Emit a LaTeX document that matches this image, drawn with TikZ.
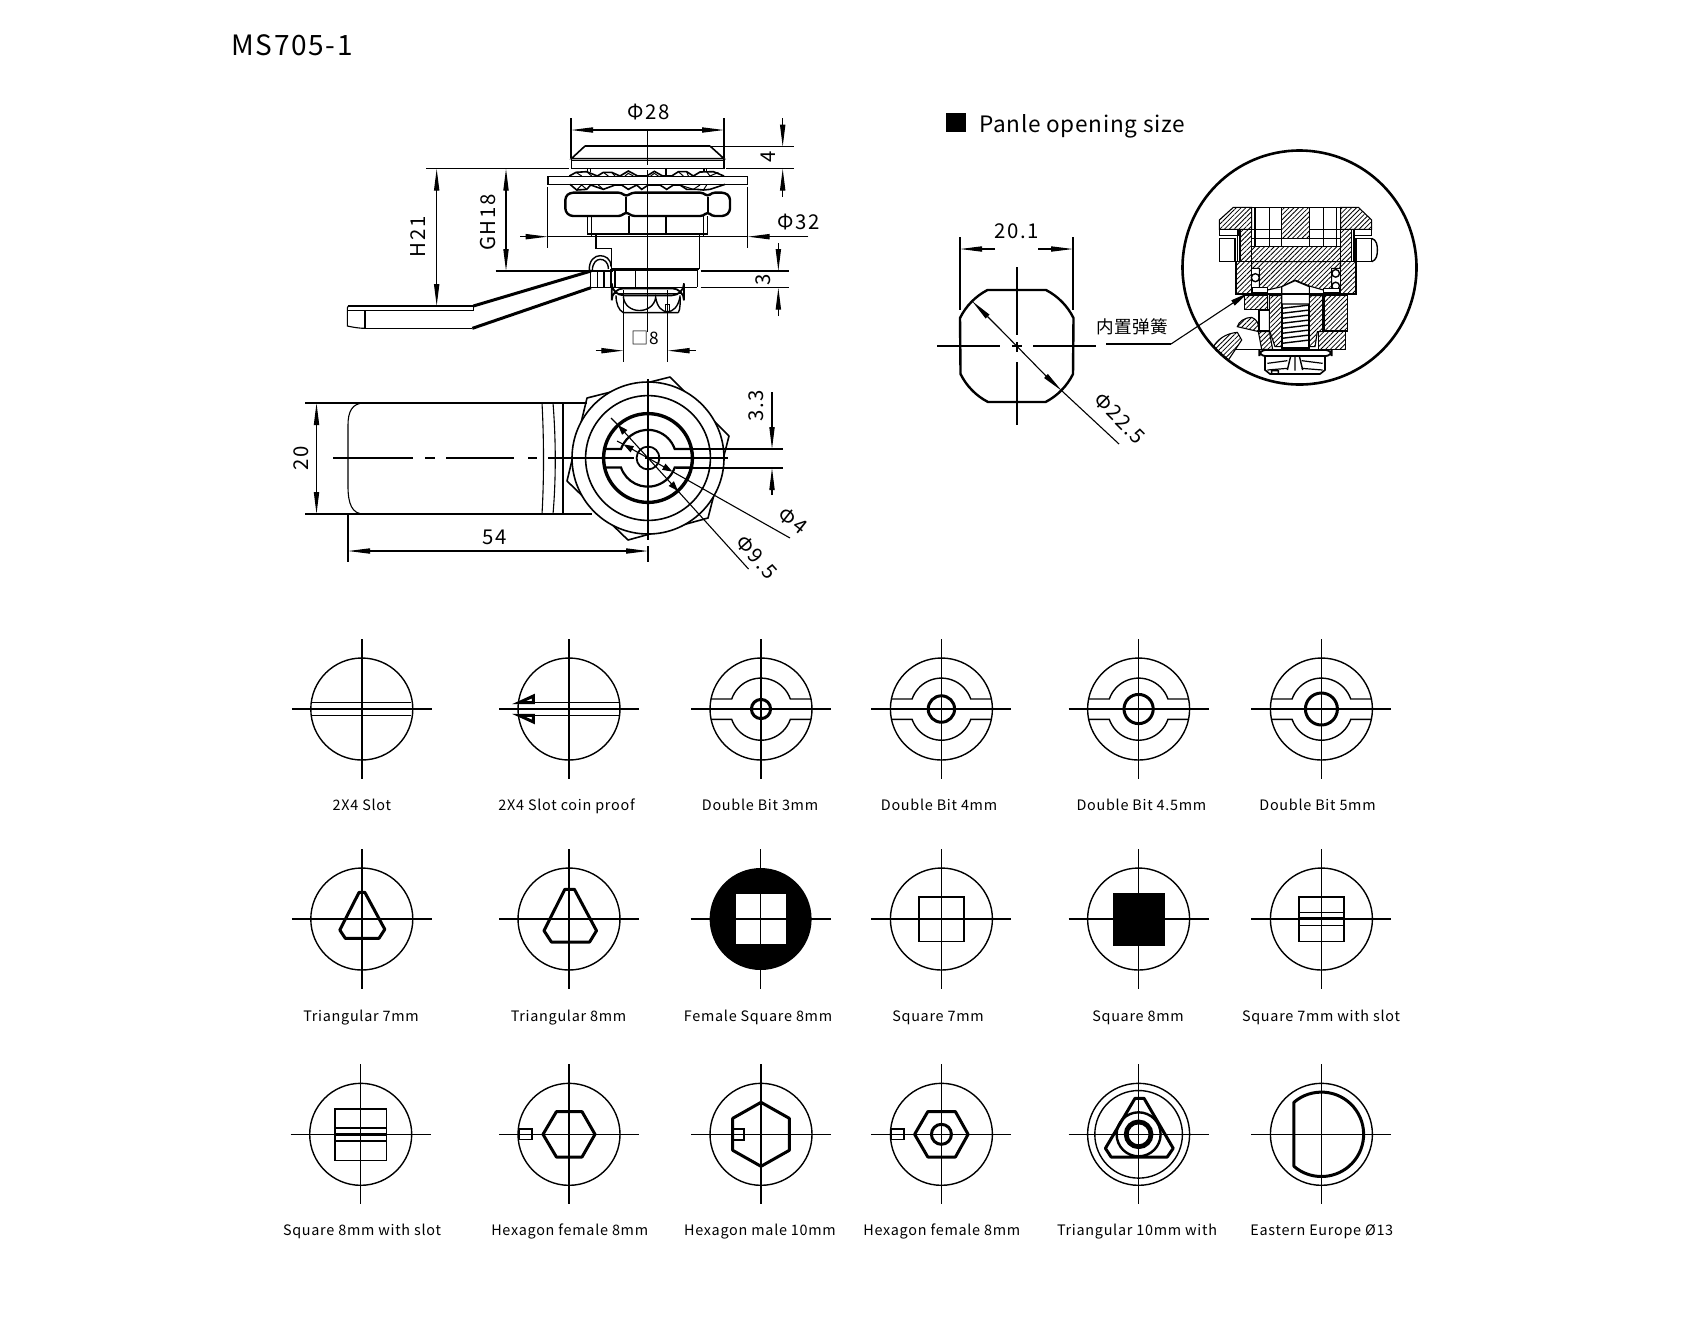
\documentclass[tikz,border=0pt]{standalone}
\usepackage{fontspec}
\setmainfont[LetterSpace=3]{Noto Sans CJK SC}
\newfontfamily\dmf[LetterSpace=8]{Noto Sans CJK SC}
\newfontfamily\lbf[LetterSpace=5]{Noto Sans CJK SC}
\newfontfamily\ttf[LetterSpace=6]{Noto Sans CJK SC}
\usetikzlibrary{arrows.meta,patterns.meta}
\newcommand{\fsz}[1]{\fontsize{#1}{#1}\selectfont}
\tikzset{
 thn/.style={line width=0.55pt,black},
 med/.style={line width=0.9pt,black},
 thk/.style={line width=1.5pt,black,line join=round},
 crs/.style={line width=0.7pt,black},
 tipa/.tip={Triangle[length=11pt,width=2.6pt]},
 tipb/.tip={Triangle[length=5pt,width=3.4pt]},
 dim/.style={thn,{tipa}-{tipa}},
 dimr/.style={thn,-{tipa}},
 dimt/.style={inner sep=0pt,font=\dmf\fsz{10.2}},
 lab/.style={inner sep=0pt,anchor=base,font=\lbf\fsz{7.2}},
 hat/.style={line width=0.55pt,draw=black,pattern={Lines[angle=45,distance=1.7pt,line width=0.4pt]}},
 z1/.style={shift={(330,90)},x=0.16667pt,y=-0.16667pt},
 z11/.style={shift={(540,120)},x=0.16667pt,y=-0.16667pt},
 z10/.style={shift={(1180,150)},x=0.16667pt,y=-0.16667pt},
}
\newcommand{\icn}{%
 \draw[crs] (-70,0) -- (70,0) (0,-70) -- (0,70);
 \draw[line width=0.7pt] (0,0) circle[radius=25.5pt];}
\newcommand{\dblbit}[1]{%
 \icn
 \draw[line width=0.7pt] (-50,-10) -- (-29.3,-10) arc[start angle=161,end angle=19,radius=15.5pt] -- (50,-10);
 \draw[line width=0.7pt] (-50,10.3) -- (-29.3,10.3) arc[start angle=199,end angle=341,radius=15.5pt] -- (50,10.3);
 \draw[line width=1.5pt] (0,0) circle[radius=#1];}
\begin{document}
\begin{tikzpicture}[x=0.5pt,y=-0.5pt]
\useasboundingbox (0,0) rectangle (1684,1319);
\fill[white] (0,0) rectangle (1684,1319);
% title
\node[inner sep=0pt,anchor=base west,font=\ttf\fsz{14}] (title) at (231,55) {MS705-1};
\fill (946,113) rectangle (966,132);
\node[inner sep=0pt,anchor=base west,font=\fsz{11.3}] (panle) at (979,132) {Panle opening size};

% ===== side view: dimensions
\begin{scope}[z1]
\draw[thn] (723,85) -- (723,205) (1182,85) -- (1182,205);
\draw[dim] (723,120) -- (1182,120);
\draw[thn] (953,120) -- (953,225) (953,240) -- (953,725);
\node[dimt] (d28) at (955,65) {Φ28};
\draw[thn] (1140,170) -- (1392,170);
\draw[thn] (288,236) -- (718,236) (1188,236) -- (1392,236);
\draw[dimr] (1358,85) -- (1358,170);
\draw[dimr] (1358,320) -- (1358,236);
\node[dimt,rotate=90] (d4) at (1315,200) {4};
\draw[dim] (320,236) -- (320,648);
\node[dimt,rotate=90] (dh) at (265,440) {H21};
\draw[dim] (528,236) -- (528,543);
\draw[thn] (497,543) -- (850,543);
\node[dimt,rotate=90] (dg) at (475,398) {GH18};
\draw[thn] (653,290) -- (653,475) (1253,290) -- (1253,475);
\draw[dimr] (570,440) -- (653,440);
\draw[dimr] (1435,440) -- (1253,440);
\draw[thn] (653,440) -- (1253,440);
\node[dimt] (d32) at (1405,395) {Φ32};
\draw[thn] (1112,543) -- (1378,543) (1112,593) -- (1378,593);
\draw[dimr] (1345,460) -- (1345,543);
\draw[dimr] (1345,678) -- (1345,593);
\node[dimt,rotate=90] (d3) at (1300,570) {3};
\draw[thn] (880,600) -- (880,815) (1013,600) -- (1013,815);
\draw[dimr] (797,782) -- (880,782);
\draw[dimr] (1097,782) -- (1013,782);
\node[inner sep=0pt,font=\fsz{8.6}] (d8) at (946,745) {□8};
% handle
\draw[thk] (430,648) -- (783,543);
\draw[thk] (427,715) -- (783,593);
\draw[thn] (55,648) -- (430,648) -- (430,662) (52,662) -- (430,662) (105,715) -- (427,715);
\draw[thn] (55,648) .. controls (52,650) and (52,655) .. (52,662) -- (52,708) .. controls (70,712) and (90,715) .. (105,715);
\draw[thn] (105,662) -- (105,715);
\end{scope}

% ===== side view: lock body
\begin{scope}[z11]
\draw[line width=0.8pt] (135,78) -- (510,78);
\draw[line width=0.8pt] (135,78) -- (94,116) -- (552,116) -- (510,78);
\draw[line width=0.8pt] (94,116) -- (94,145) -- (552,145) -- (552,116);
\draw[line width=0.5pt] (94,120) -- (552,120);
% upper teeth
\draw[line width=0.8pt] (88,168) -- (108,157) -- (140,155) -- (172,168) -- (190,157) -- (215,157) -- (240,168) -- (265,153) -- (293,168) -- (320,168) -- (343,154) -- (368,168) -- (395,168) -- (415,155) -- (440,155) -- (460,168) -- (480,156) -- (520,155) -- (552,168);
\draw[line width=0.5pt] (108,157) -- (125,168) (140,155) -- (155,168) (190,157) -- (205,168) (215,157) -- (225,168) (415,155) -- (430,168) (440,155) -- (445,168) (500,155) -- (510,168) -- (535,157) (255,168) -- (265,160) -- (280,168) (332,168) -- (343,160) -- (355,168);
\draw[line width=0.6pt] (143,145) -- (143,155) (152,145) -- (152,155) (378,145) -- (378,168) (492,145) -- (492,155) (500,145) -- (500,155);
% plate
\draw[line width=0.8pt] (24,169) rectangle (622,193);
% lower teeth
\draw[line width=0.8pt] (90,193) -- (110,210) -- (140,208) -- (152,195) -- (190,208) -- (225,195) -- (245,195) -- (265,208) -- (290,195) -- (305,208) -- (325,195) -- (360,195) -- (380,208) -- (400,195) -- (420,195) -- (440,208) -- (470,208) -- (490,210) -- (510,208) -- (555,193);
\draw[line width=0.5pt] (110,210) -- (125,195) (140,208) -- (125,195) (175,195) -- (190,208) (420,195) -- (460,208) -- (480,195) (490,210) -- (500,195);
% nut
\draw[line width=1.2pt,line join=round,rounded corners=1.6pt] (90,218) -- (245,218) -- (258,230) -- (275,218) -- (490,218) -- (503,230) -- (515,218) -- (555,218) -- (570,230) -- (570,275) -- (555,288) -- (515,288) -- (503,275) -- (490,288) -- (275,288) -- (258,275) -- (245,288) -- (90,288) -- (76,275) -- (76,230) -- cycle;
\draw[line width=0.9pt] (258,230) -- (258,275) (503,230) -- (503,275);
% collar
\draw[line width=0.8pt] (143,288) -- (143,342) -- (503,342) -- (503,288);
\draw[line width=0.55pt] (155,288) -- (155,342) (490,288) -- (490,342) (267,288) -- (267,342) (378,288) -- (378,342);
\draw[line width=0.8pt] (155,342) -- (155,350) -- (490,350) -- (490,342);
\draw[line width=0.55pt] (168,342) -- (168,350) (478,342) -- (478,350);
% body
\draw[line width=0.7pt] (168,350) -- (168,385) -- (215,385) -- (215,447) (478,350) -- (478,447);
\draw[line width=1.3pt] (215,447) -- (478,447);
\draw[line width=0.7pt] (215,452) -- (472,452) (472,447) -- (472,502);
\draw[line width=0.7pt] (152,502) -- (472,502);
\draw[line width=0.6pt] (225,452) -- (225,502) (287,452) -- (287,502) (152,452) -- (152,502) (173,452) -- (173,502) (192,452) -- (192,502) (213,447) -- (213,502);
\draw[line width=0.7pt] (148,452) .. controls (146,420) and (165,407) .. (180,407) .. controls (195,407) and (213,415) .. (213,440);
\draw[line width=0.7pt] (157,452) .. controls (157,428) and (170,418) .. (180,418) .. controls (192,418) and (205,425) .. (205,447);
% bottom nut
\draw[line width=0.9pt,rounded corners=6pt] (215,505) rectangle (432,526);
\draw[line width=0.5pt] (222,520) -- (425,520);
\draw[line width=0.7pt] (228,526) .. controls (228,550) and (235,570) .. (250,578) -- (415,578);
\draw[line width=0.7pt] (415,578) .. controls (422,565) and (420,545) .. (420,526);
\draw[line width=0.7pt] (250,530) .. controls (255,585) and (340,585) .. (347,532) .. controls (355,590) and (410,590) .. (420,530);
\draw[line width=0.5pt] (375,553) rectangle (388,578);
\end{scope}

% ===== bottom view
\draw[thn] (364,403) .. controls (352,403) and (348,412) .. (348,425) -- (348,486) .. controls (348,504) and (352,514) .. (364,514);
\draw[thn] (305,403) -- (587,403) (305,514) -- (592,514);
\draw[thn] (542,403) .. controls (544,440) and (544,480) .. (542,514);
\draw[thn] (553,403) .. controls (556,440) and (556,480) .. (553,514);
\draw[thn] (563,403) -- (563,514);
\draw[thn] (348,514) -- (348,562) (648,546) -- (648,562);
\draw[thn] (333,458) -- (413,458) (425,458) -- (435,458) (446,458) -- (514,458) (528,458) -- (537,458);
\draw[dim] (316.5,403) -- (316.5,514);
\node[dimt,rotate=90] (d20) at (301,458) {20};
\draw[dim] (348,551) -- (648,551);
\node[dimt] (d54) at (494.5,537) {54};
\draw[line width=0.8pt,line join=round] (587,398) -- (670,377) -- (729,436) -- (708,518) -- (628,540) -- (567,481) -- cycle;
\draw[line width=0.8pt,fill=white] (648,458) circle[radius=38pt];
\draw[line width=0.8pt] (648,458) circle[radius=31.2pt];
\draw[line width=1.7pt] (648,458) circle[radius=22.2pt];
\draw[line width=0.9pt] (648,458) circle[radius=5.7pt];
\draw[line width=1.1pt] (604,449) -- (621,449) arc[start angle=161,end angle=19,radius=14.2pt] -- (692,449);
\draw[line width=1.1pt] (604,467.5) -- (621,467.5) arc[start angle=199,end angle=341,radius=14.2pt] -- (692,467.5);
\draw[thn] (648,379) -- (648,540);
\draw[thn] (548,458) -- (634,458) (645,458) -- (728,458);
\draw[thn] (676,449) -- (783,449) (676,468) -- (783,468);
\draw[dimr] (772,392) -- (772,449);
\draw[dimr] (772,495) -- (772,468);
\node[dimt,rotate=90] (d33) at (756,406) {3.3};
\draw[thn,-{tipb}] (648,458) -- (618,425);
\draw[thn] (618,425) -- (611,418);
\draw[thn,-{tipb}] (648,458) -- (678,491);
\draw[thn] (678,491) -- (748.5,569);
\draw[thn,-{tipb}] (648,458) -- (623.5,444.4);
\draw[thn] (623.5,444.4) -- (617,441);
\draw[thn,-{tipb}] (648,458) -- (672.5,471.6);
\draw[thn] (672.5,471.6) -- (790,538);
\node[dimt,rotate=-38] (d40) at (793,521) {Φ4};
\node[dimt,rotate=-48] (d95) at (757,557) {Φ9.5};

% ===== panel opening
\draw[line width=1.2pt,line join=round] (988,290) -- (1046,290) arc[start angle=62.6,end angle=26.3,radius=31.5pt] -- (1073,374) arc[start angle=-26.3,end angle=-62.6,radius=31.5pt] -- (988,402) arc[start angle=242.6,end angle=206.3,radius=31.5pt] -- (960,318) arc[start angle=153.7,end angle=117.4,radius=31.5pt] -- cycle;
\draw[thn] (960,237) -- (960,310) (1073,237) -- (1073,310);
\draw[dimr] (995,249) -- (960,249);
\draw[dimr] (1038,249) -- (1073,249);
\node[dimt] (d201) at (1017,231) {20.1};
\draw[thn] (937,346) -- (1000,346) (1012,346) -- (1022,346) (1033,346) -- (1096,346);
\draw[thn] (1017,267) -- (1017,335) (1017,342) -- (1017,352) (1017,362) -- (1017,425);
\draw[thn,{tipa}-] (972,301) -- (1000,329);
\draw[thn] (1000,329) -- (1046,376);
\draw[thn,-{tipa}] (1046,376) -- (1062,391);
\draw[thn] (1062,391) -- (1119,444);
\node[dimt,rotate=-45] (d225) at (1120,418) {Φ22.5};
\node[inner sep=0pt,font=\fsz{8.8}] (spring) at (1132,327) {内置弹簧};

% ===== section detail
\begin{scope}
\clip (1299.5,267.5) circle[radius=58.5pt];
\begin{scope}[z10]
% side nuts
\draw[line width=0.7pt] (118,265) rectangle (165,335);
\draw[line width=0.7pt] (528,265) rectangle (575,335);
\draw[line width=0.7pt] (575,265) .. controls (590,270) and (592,285) .. (592,300) .. controls (592,315) and (590,330) .. (575,335);
\draw[line width=0.5pt] (118,238) rectangle (175,255) (520,238) rectangle (575,255);
% lower shell
\fill[white] (168,335) rectangle (528,435);
\path[hat] (168,335) -- (215,335) -- (215,433) -- (168,433) -- cycle;
\path[hat] (482,335) -- (528,335) -- (528,433) -- (482,433) -- cycle;
\path[hat] (180,238) -- (215,238) -- (215,335) -- (180,335) -- cycle;
\path[hat] (482,238) -- (515,238) -- (515,335) -- (482,335) -- cycle;
\path[hat] (215,290) -- (482,290) -- (482,335) -- (215,335) -- cycle;
\path[hat] (215,335) -- (482,335) -- (480,355) -- (455,355) -- (455,420) -- (430,420) -- (388,408) -- (345,390) -- (305,410) -- (262,420) -- (238,412) -- (238,355) -- (215,355) -- cycle;
% cap
\path[hat] (160,172) -- (215,172) -- (215,238) -- (118,238) -- (118,210) -- cycle;
\path[hat] (305,172) -- (388,172) -- (388,265) -- (305,265) -- cycle;
\path[hat] (482,172) -- (535,172) -- (575,210) -- (575,238) -- (482,238) -- cycle;
\draw[line width=0.7pt] (225,172) -- (225,290) (268,172) -- (268,290) (305,172) -- (305,290) (388,172) -- (388,290) (430,172) -- (430,290) (470,172) -- (470,290);
\draw[line width=0.7pt] (215,172) -- (482,172) (215,238) -- (305,238) (388,238) -- (482,238) (215,265) -- (482,265);
\draw[line width=0.8pt] (168,335) -- (168,433) (172,238) -- (172,335) (215,172) -- (215,433) (482,172) -- (482,433) (522,238) -- (522,335);
% balls
\draw[line width=0.7pt,fill=white] (226,383) circle[radius=2pt] (467,370) circle[radius=1.9pt] (467,408) circle[radius=1.9pt];
\draw[line width=0.6pt,fill=white] (218,412) rectangle (262,428) (430,415) rectangle (480,428);
% lower pieces
\path[hat] (193,437) -- (262,437) -- (262,478) -- (193,478) -- cycle;
\path[hat] (268,437) -- (305,437) -- (305,590) -- (285,590) -- (268,540) -- cycle;
\path[hat] (388,437) -- (428,437) -- (428,545) -- (412,545) -- (405,590) -- (388,590) -- cycle;
\path[hat] (432,437) -- (502,437) -- (502,543) -- (432,543) -- cycle;
\path[hat] (415,545) -- (497,545) -- (497,598) -- (415,598) -- cycle;
\draw[line width=0.6pt,fill=white] (305,410) -- (345,392) -- (388,410) -- (388,462) -- (305,462) -- cycle;
\draw[line width=0.6pt] (305,432) -- (388,432);
\draw[line width=0.7pt] (305,475) -- (388,465) (305,490) -- (388,480) (305,505) -- (388,495) (305,520) -- (388,510) (305,535) -- (388,525) (305,550) -- (388,540) (305,565) -- (388,555) (305,580) -- (388,570);
\draw[line width=0.9pt] (305,462) -- (305,595) -- (388,595) -- (388,462);
\draw[line width=0.9pt] (168,433) -- (528,433);
% left pieces
\draw[line width=0.7pt] (237,480) rectangle (268,542);
\path[hat] (172,530) .. controls (175,515) and (195,502) .. (215,502) .. controls (230,508) and (238,520) .. (237,545) -- cycle;
\path[hat] (235,545) -- (268,545) -- (278,598) -- (245,598) -- cycle;
\path[hat] (100,590) .. controls (115,565) and (140,550) .. (172,547) -- (185,570) -- (165,600) -- (145,630) -- cycle;
\draw[line width=0.7pt] (165,598) -- (245,598);
% bottom nut
\draw[line width=0.9pt,rounded corners=3pt,fill=white] (238,600) rectangle (455,618);
\draw[line width=0.8pt] (255,618) -- (255,660) -- (270,672) -- (420,672) -- (435,660) -- (435,618);
\draw[line width=0.6pt] (262,640) -- (322,632) (365,632) -- (428,640) (262,660) -- (322,655) (365,655) -- (428,660);
\draw[line width=0.7pt] (332,618) -- (322,660) (345,618) -- (345,662) (358,618) -- (368,660) (275,662) rectangle (295,672);
\end{scope}
\end{scope}
\draw[line width=1.3pt] (1299.5,267.5) circle[radius=58.5pt];
\draw[thn,{Triangle[length=9pt,width=3pt]}-] (1248,293) -- (1171,344);
\draw[thn] (1171,344) -- (1106,344);

% ===== icon grid row 1
\begin{scope}[shift={(361.8,709)}]\icn
\draw[line width=0.8pt] (-49.6,-6.5) -- (49.6,-6.5) (-49.6,6.5) -- (49.6,6.5);\end{scope}
\begin{scope}[shift={(569,709)}]\icn
\draw[line width=0.8pt] (-36,-6.4) -- (49.6,-6.4) (-36,6.4) -- (49.6,6.4);
\draw[line width=1.5pt,line join=miter] (-50,-6.4) -- (-35.6,-13) -- (-35.6,-6.4) -- cycle;
\draw[line width=1.5pt,line join=miter] (-50,6.4) -- (-35.6,13) -- (-35.6,6.4) -- cycle;\end{scope}
\begin{scope}[shift={(761,709)}]\dblbit{4.8pt}\end{scope}
\begin{scope}[shift={(941.4,709)}]\dblbit{6.6pt}\end{scope}
\begin{scope}[shift={(1138.6,709)}]\dblbit{7.3pt}\end{scope}
\begin{scope}[shift={(1321.4,709)}]\dblbit{8pt}\end{scope}
\node[lab] (a1) at (361.8,810) {2X4 Slot};
\node[lab] (a2) at (566.6,810) {2X4 Slot coin proof};
\node[lab] (a3) at (760,810) {Double Bit 3mm};
\node[lab] (a4) at (939,810) {Double Bit 4mm};
\node[lab] (a5) at (1141.4,810) {Double Bit 4.5mm};
\node[lab] (a6) at (1317.5,810) {Double Bit 5mm};

% row 2
\begin{scope}[shift={(361.8,919)}]\icn
\draw[thk] (-2.7,-26.7) -- (3,-26.7) -- (23,10.3) -- (17.2,19.3) -- (-16.5,19.3) -- (-22,11) -- cycle;\end{scope}
\begin{scope}[shift={(569,919)}]\icn
\draw[thk] (-4.2,-29.7) -- (5.4,-29.7) -- (27.5,11.7) -- (20.6,23) -- (-17.6,23) -- (-25,11.7) -- cycle;\end{scope}
\begin{scope}[shift={(760.6,919)}]
\fill (0,0) circle[radius=25.5pt];
\fill[white] (-25,-25) rectangle (25,25);
\draw[crs] (-70,0) -- (70,0) (0,-70) -- (0,70);\end{scope}
\begin{scope}[shift={(941.4,919)}]\icn
\draw[line width=0.8pt] (-22.7,-22.3) rectangle (22.7,22.3);\end{scope}
\begin{scope}[shift={(1138.6,919)}]\icn
\fill (-26,-26.5) rectangle (26,26.5);\end{scope}
\begin{scope}[shift={(1321.4,919)}]\icn
\draw[line width=0.8pt] (-22.7,-22.3) rectangle (22.7,22.3) (-22.7,-6.5) -- (22.7,-6.5) (-22.7,6.5) -- (22.7,6.5);
\draw[line width=1.3pt] (-22.7,-0.5) -- (22.7,-0.5);\end{scope}
\node[lab] (b1) at (361,1021) {Triangular 7mm};
\node[lab] (b2) at (568.5,1021) {Triangular 8mm};
\node[lab] (b3) at (758,1021) {Female Square 8mm};
\node[lab] (b4) at (938,1021) {Square 7mm};
\node[lab] (b5) at (1138,1021) {Square 8mm};
\node[lab] (b6) at (1321,1021) {Square 7mm with slot};

% row 3
\begin{scope}[shift={(360.7,1134.3)}]\icn
\draw[line width=0.8pt] (-25.8,-25.3) rectangle (25.8,26) (-25.8,-6.4) -- (25.8,-6.4) (-25.8,6.4) -- (25.8,6.4);
\draw[line width=1.5pt] (-25.8,0) -- (25.8,0);\end{scope}
\begin{scope}[shift={(569,1134.3)}]\icn
\draw[thk] (-26,0) -- (-12.6,-22.7) -- (13,-22.7) -- (26,0) -- (13,22.7) -- (-12.6,22.7) -- cycle;
\draw[line width=0.8pt] (-50,-5.3) rectangle (-37,5.3);
\draw[line width=1pt] (-37,-6) -- (-37,6);\end{scope}
\begin{scope}[shift={(761,1134.3)}]\icn
\draw[thk] (0,-32) -- (28.3,-16) -- (28.3,16) -- (0,32) -- (-28.3,16) -- (-28.3,-16) -- cycle;
\draw[line width=1.1pt] (-28,-5.3) rectangle (-17,5.3);\end{scope}
\begin{scope}[shift={(941.4,1134.3)}]\icn
\draw[thk] (-26.8,0) -- (-13.6,-22.7) -- (14,-22.7) -- (26.7,0) -- (14,22.7) -- (-13.6,22.7) -- cycle;
\draw[thk] (0,0) circle[radius=5pt];
\draw[line width=0.8pt] (-50,-5.3) rectangle (-37.5,5.3);
\draw[line width=1pt] (-37.5,-6) -- (-37.5,6);\end{scope}
\begin{scope}[shift={(1138.6,1134.3)}]\icn
\draw[line width=0.7pt] (0,0) circle[radius=21.9pt];
\draw[thk] (-3.6,-36) -- (5.4,-36) -- (34.6,14) -- (28.6,22.7) -- (-27.5,22.7) -- (-33.2,14) -- cycle;
\draw[line width=1.2pt] (0,0) circle[radius=11pt];
\draw[line width=2.4pt] (0,0) circle[radius=6.2pt];\end{scope}
\begin{scope}[shift={(1321.4,1134.3)}]\icn
\draw[thk] (-27.5,-32) arc[start angle=130.7,end angle=-130.7,radius=21.1pt] -- cycle;\end{scope}
\node[lab] (c1) at (362,1235) {Square 8mm with slot};
\node[lab] (c2) at (569.7,1235) {Hexagon female 8mm};
\node[lab] (c3) at (760,1235) {Hexagon male 10mm};
\node[lab] (c4) at (941.8,1235) {Hexagon female 8mm};
\node[lab] (c5) at (1137,1235) {Triangular 10mm with};
\node[lab] (c6) at (1321.8,1235) {Eastern Europe Ø13};
\end{tikzpicture}
\end{document}
